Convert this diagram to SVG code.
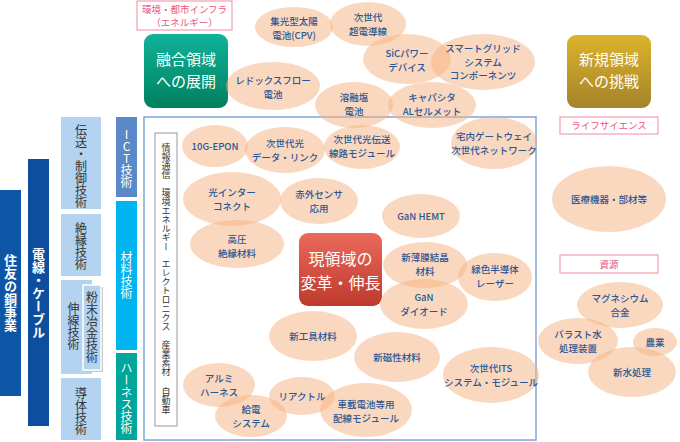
<svg xmlns="http://www.w3.org/2000/svg" width="680" height="442" viewBox="0 0 680 442">
<defs>
<linearGradient id="gGreen" x1="0" y1="0" x2="0" y2="1"><stop offset="0" stop-color="#10b39b"/><stop offset="1" stop-color="#00805f"/></linearGradient>
<linearGradient id="gGold" x1="0" y1="0" x2="0" y2="1"><stop offset="0" stop-color="#dcb42a"/><stop offset="1" stop-color="#a5832a"/></linearGradient>
<linearGradient id="gRed" x1="0" y1="0" x2="0" y2="1"><stop offset="0" stop-color="#ea6a5c"/><stop offset="1" stop-color="#bd3a2c"/></linearGradient>
</defs>
<style>
text{font-family:"Noto Sans CJK JP","Noto Sans",sans-serif}
.el{fill:#f6b27f;opacity:0.5}
.t{font-size:9.5px;font-weight:500;fill:#2a5794;text-anchor:middle}
.big{font-size:15px;fill:#fff;text-anchor:middle}
.pk{fill:#fff;stroke:#f08aa0;stroke-width:1}
.pt{font-size:9.5px;fill:#e8567a;text-anchor:middle}
.v{writing-mode:vertical-rl;text-anchor:middle;dominant-baseline:central}
.vw{fill:#fff;font-weight:bold;font-size:13px}
.vd{fill:#333;font-size:12px}
.vl{fill:#333;font-size:9px}
.lb{fill:#b3d3f0}
</style>

<g id="col-sumitomo"><rect x="0" y="190" width="21" height="206" fill="#0d56a6"/><text class="v vw" x="10.5" y="293">住友の銅事業</text></g>
<g id="col-cable"><rect x="28" y="159" width="21" height="267" fill="#0d4f9e"/><text class="v vw" x="38.5" y="293">電線・ケーブル</text></g>

<g id="tech-densou"><rect class="lb" x="61" y="117" width="40" height="92"/><text class="v vd" x="81" y="166">伝送・制御技術</text></g>
<g id="tech-zetsuen"><rect class="lb" x="61" y="214" width="40" height="62"/><text class="v vd" x="81" y="246">絶縁技術</text></g>
<g id="tech-shinsen"><rect class="lb" x="61" y="280" width="31" height="94"/><text class="v vd" x="73.5" y="326">伸線技術</text></g>
<g id="tech-funmatsu"><rect x="85" y="287" width="18" height="85" fill="#c9c9c9"/><rect class="lb" x="83" y="285" width="18" height="85" stroke="#fff" stroke-width="1.5"/><text class="v vd" x="92" y="327">粉末冶金技術</text></g>
<g id="tech-doutai"><rect class="lb" x="61" y="378" width="40" height="62"/><text class="v vd" x="81" y="411">導体技術</text></g>

<g id="tech-ict"><rect x="116" y="117" width="21" height="80" fill="#5b88c6"/><text class="v vw" x="126.5" y="158" style="text-orientation:upright;font-weight:normal;font-size:12px">ICT技術</text></g>
<g id="tech-zairyou"><rect x="116" y="201" width="21" height="149" fill="#00b5ef"/><text class="v vw" x="126.5" y="275" style="font-weight:normal;font-size:12px">材料技術</text></g>
<g id="tech-harness"><rect x="116" y="353" width="21" height="87" fill="#00a59b"/><text class="v vw" x="126.5" y="398" style="font-weight:normal;font-size:12px">ハーネス技術</text></g>

<g id="main-box"><rect x="144" y="117" width="392" height="323" fill="none" stroke="#7fa6d8" stroke-width="1.5"/></g>
<g id="field-labels"><rect x="155" y="133" width="22" height="293" fill="#fff" stroke="#999" stroke-width="1"/>
<text class="v vl" x="166" y="161">情報通信</text>
<text class="v vl" x="166" y="220">環境エネルギー</text>
<text class="v vl" x="166" y="295">エレクトロニクス</text>
<text class="v vl" x="166" y="358">産業素材</text>
<text class="v vl" x="166" y="401">自動車</text></g>

<g id="label-infra"><rect class="pk" x="137" y="1" width="95" height="29"/><text class="pt" x="184.5" y="13">環境・都市インフラ</text><text class="pt" x="184.5" y="26">（エネルギー）</text></g>
<g id="box-fusion"><rect x="144" y="34" width="84" height="74" rx="9" fill="url(#gGreen)"/><text class="big" x="186" y="65">融合領域</text><text class="big" x="186" y="87">への展開</text></g>
<g id="box-new"><rect x="567" y="35" width="84" height="73" rx="9" fill="url(#gGold)"/><text class="big" x="609" y="65">新規領域</text><text class="big" x="609" y="87">への挑戦</text></g>
<g id="label-life"><rect class="pk" x="560" y="117" width="98" height="17"/><text class="pt" x="609" y="129">ライフサイエンス</text></g>
<g id="label-shigen"><rect class="pk" x="560" y="255" width="98" height="18"/><text class="pt" x="609" y="268">資源</text></g>
<g id="box-current"><rect x="299" y="233" width="83" height="73" rx="9" fill="url(#gRed)"/><text class="big" x="340.5" y="265" style="font-size:16px">現領域の</text><text class="big" x="340.5" y="288.5" style="font-size:16px">変革・伸長</text></g>

<g id="n-cpv"><ellipse class="el" cx="294" cy="27" rx="39" ry="20"/><text class="t" x="294" y="25">集光型太陽</text><text class="t" x="294" y="38.5">電池(CPV)</text></g>
<g id="n-chodendo"><ellipse class="el" cx="368" cy="24" rx="38" ry="22"/><text class="t" x="368" y="21">次世代</text><text class="t" x="368" y="34.5">超電導線</text></g>
<g id="n-sic"><ellipse class="el" cx="407" cy="59" rx="44" ry="25"/><text class="t" x="407" y="57">SiCパワー</text><text class="t" x="407" y="70.5">デバイス</text></g>
<g id="n-smartgrid"><ellipse class="el" cx="483" cy="62" rx="52" ry="28"/><text class="t" x="483" y="52">スマートグリッド</text><text class="t" x="483" y="65.5">システム</text><text class="t" x="483" y="79">コンポーネンツ</text></g>
<g id="n-redox"><ellipse class="el" cx="273" cy="86" rx="47" ry="24"/><text class="t" x="273" y="84">レドックスフロー</text><text class="t" x="273" y="97.5">電池</text></g>
<g id="n-youyuen"><ellipse class="el" cx="354" cy="105" rx="39" ry="23"/><text class="t" x="354" y="101">溶融塩</text><text class="t" x="354" y="114.5">電池</text></g>
<g id="n-capacitor"><ellipse class="el" cx="432" cy="105" rx="44" ry="23"/><text class="t" x="432" y="101">キャパシタ</text><text class="t" x="432" y="114.5">ALセルメット</text></g>

<g id="n-epon"><ellipse class="el" cx="215" cy="146" rx="33" ry="21"/><text class="t" x="215" y="150">10G-EPON</text></g>
<g id="n-datalink"><ellipse class="el" cx="285" cy="150" rx="40" ry="23"/><text class="t" x="285" y="147">次世代光</text><text class="t" x="285" y="160.5">データ・リンク</text></g>
<g id="n-optmodule"><ellipse class="el" cx="362" cy="147" rx="38" ry="22"/><text class="t" x="362" y="143">次世代光伝送</text><text class="t" x="362" y="156.5">線路モジュール</text></g>
<g id="n-gateway"><ellipse class="el" cx="494" cy="143" rx="43" ry="26"/><text class="t" x="494" y="140">宅内ゲートウェイ</text><text class="t" x="494" y="153.5">次世代ネットワーク</text></g>
<g id="n-interconnect"><ellipse class="el" cx="232" cy="199" rx="49" ry="27"/><text class="t" x="232" y="196">光インター</text><text class="t" x="232" y="210">コネクト</text></g>
<g id="n-ir"><ellipse class="el" cx="319" cy="201" rx="39" ry="23"/><text class="t" x="319" y="198">赤外センサ</text><text class="t" x="319" y="212">応用</text></g>
<g id="n-hv"><ellipse class="el" cx="237" cy="244" rx="47" ry="24"/><text class="t" x="237" y="243">高圧</text><text class="t" x="237" y="257">絶縁材料</text></g>
<g id="n-hemt"><ellipse class="el" cx="421" cy="216" rx="39" ry="22"/><text class="t" x="421" y="220">GaN HEMT</text></g>
<g id="n-thinfilm"><ellipse class="el" cx="425" cy="265" rx="42" ry="23"/><text class="t" x="425" y="261">新薄膜結晶</text><text class="t" x="425" y="274.5">材料</text></g>
<g id="n-greenlaser"><ellipse class="el" cx="495" cy="277" rx="37" ry="24"/><text class="t" x="495" y="273">緑色半導体</text><text class="t" x="495" y="287">レーザー</text></g>
<g id="n-gandiode"><ellipse class="el" cx="424" cy="304" rx="44" ry="25"/><text class="t" x="424" y="301">GaN</text><text class="t" x="424" y="315">ダイオード</text></g>
<g id="n-tool"><ellipse class="el" cx="313" cy="336" rx="44" ry="25"/><text class="t" x="313" y="340">新工具材料</text></g>
<g id="n-magnetic"><ellipse class="el" cx="397" cy="357" rx="43" ry="25"/><text class="t" x="397" y="361">新磁性材料</text></g>
<g id="n-its"><ellipse class="el" cx="491" cy="375" rx="48" ry="28"/><text class="t" x="491" y="372">次世代ITS</text><text class="t" x="491" y="385.5">システム・モジュール</text></g>
<g id="n-alharness"><ellipse class="el" cx="219" cy="385" rx="36" ry="22"/><text class="t" x="219" y="382">アルミ</text><text class="t" x="219" y="395.5">ハーネス</text></g>
<g id="n-feed"><ellipse class="el" cx="251" cy="416" rx="36" ry="21"/><text class="t" x="251" y="413">給電</text><text class="t" x="251" y="426.5">システム</text></g>
<g id="n-reactor"><ellipse class="el" cx="302" cy="396" rx="33" ry="19"/><text class="t" x="302" y="400">リアクトル</text></g>
<g id="n-battmodule"><ellipse class="el" cx="366" cy="410" rx="46" ry="27"/><text class="t" x="366" y="408">車載電池等用</text><text class="t" x="366" y="421.5">配線モジュール</text></g>

<g id="n-medical"><ellipse class="el" cx="609" cy="199" rx="57" ry="33"/><text class="t" x="609" y="203">医療機器・部材等</text></g>
<g id="n-mg"><ellipse class="el" cx="620" cy="305" rx="43" ry="23"/><text class="t" x="620" y="302">マグネシウム</text><text class="t" x="620" y="315.5">合金</text></g>
<g id="n-ballast"><ellipse class="el" cx="578" cy="341" rx="40" ry="23"/><text class="t" x="578" y="338">バラスト水</text><text class="t" x="578" y="351.5">処理装置</text></g>
<g id="n-agri"><ellipse class="el" cx="655" cy="342" rx="22" ry="14"/><text class="t" x="655" y="346">農業</text></g>
<g id="n-water"><ellipse class="el" cx="632" cy="372" rx="44" ry="25"/><text class="t" x="632" y="376">新水処理</text></g>
</svg>
